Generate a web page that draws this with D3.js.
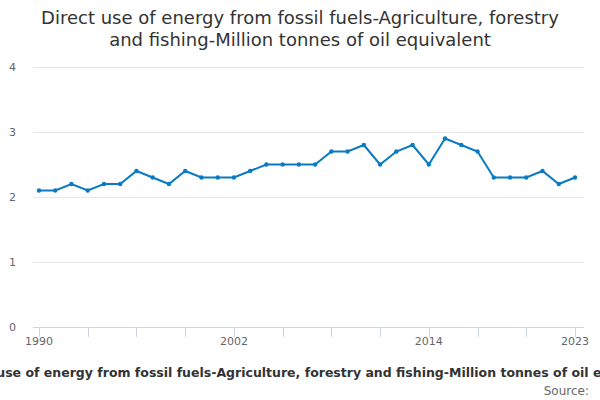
<!DOCTYPE html>
<html lang="en">
<head>
<meta charset="utf-8">
<title>Direct use of energy from fossil fuels</title>
<script src="https://d3js.org/d3.v7.min.js"></script>
<style>
  body { margin: 0; background: #fff; }
  text { font-family: "DejaVu Sans", sans-serif; }
</style>
</head>
<body>
<script>
// values
var years = d3.range(1990, 2024);
var values = [2.1, 2.1, 2.2, 2.1, 2.2, 2.2, 2.4, 2.3, 2.2, 2.4,
              2.3, 2.3, 2.3, 2.4, 2.5, 2.5, 2.5, 2.5, 2.7, 2.7,
              2.8, 2.5, 2.7, 2.8, 2.5, 2.9, 2.8, 2.7, 2.3, 2.3,
              2.3, 2.4, 2.2, 2.3];
var yTicks = [0, 1, 2, 3, 4];
var xLabelYears = [1990, 2002, 2014, 2023];
var xTickYears = d3.range(1990, 2024, 3);
var titleLines = ["Direct use of energy from fossil fuels-Agriculture, forestry",
                  "and fishing-Million tonnes of oil equivalent"];
var axisTitle = "Direct use of energy from fossil fuels-Agriculture, forestry and fishing-Million tonnes of oil equivalent";

var width = 600,
    height = 400;

var plotLeft = 33, plotRight = 584, plotTop = 67, plotBottom = 327;

var x = d3.scaleLinear()
    .domain([1990, 2023])
    .range([39, 575]);

var y = d3.scaleLinear()
    .domain([0, 4])
    .range([plotBottom, plotTop]);

var svg = d3.select("body").append("svg")
    .attr("width", width)
    .attr("height", height);

// title
svg.append("text")
    .attr("x", width / 2)
    .attr("y", 24)
    .attr("text-anchor", "middle")
    .style("font-size", "18px")
    .style("fill", "#333")
  .selectAll("tspan")
    .data(titleLines)
  .enter().append("tspan")
    .attr("x", width / 2)
    .attr("dy", function(d, i) { return i ? 22 : 0; })
    .text(function(d) { return d; });

// gridlines
svg.append("g")
  .selectAll("line")
    .data(yTicks.filter(function(d) { return d > 0; }))
  .enter().append("line")
    .attr("x1", plotLeft)
    .attr("x2", plotRight)
    .attr("y1", function(d) { return y(d) + 0.5; })
    .attr("y2", function(d) { return y(d) + 0.5; })
    .style("stroke", "#e6e6e6");

// y labels
svg.append("g")
  .selectAll("text")
    .data(yTicks)
  .enter().append("text")
    .attr("x", 16)
    .attr("y", function(d) { return y(d) + 4; })
    .attr("text-anchor", "end")
    .style("font-size", "11px")
    .style("fill", "#666")
    .text(function(d) { return d; });

// x axis
var xAxis = svg.append("g");
xAxis.append("line")
    .attr("x1", plotLeft)
    .attr("x2", plotRight)
    .attr("y1", plotBottom + 0.5)
    .attr("y2", plotBottom + 0.5)
    .style("stroke", "#ccd6eb");

xAxis.selectAll(".tick")
    .data(xTickYears)
  .enter().append("line")
    .attr("class", "tick")
    .attr("x1", function(d) { return Math.round(x(d)) + 0.5; })
    .attr("x2", function(d) { return Math.round(x(d)) + 0.5; })
    .attr("y1", plotBottom)
    .attr("y2", plotBottom + 10)
    .style("stroke", "#ccd6eb");

xAxis.selectAll(".lbl")
    .data(xLabelYears)
  .enter().append("text")
    .attr("class", "lbl")
    .attr("x", function(d) { return x(d); })
    .attr("y", plotBottom + 18)
    .attr("text-anchor", "middle")
    .style("font-size", "11px")
    .style("fill", "#666")
    .text(function(d) { return d; });

// line + markers
var data = years.map(function(d, i) { return { year: d, value: values[i] }; });

var line = d3.line()
    .x(function(d) { return x(d.year); })
    .y(function(d) { return y(d.value); });

svg.append("path")
    .datum(data)
    .attr("d", line)
    .style("fill", "none")
    .style("stroke", "#0a7bc2")
    .style("stroke-width", 2);

svg.append("g")
  .selectAll("circle")
    .data(data)
  .enter().append("circle")
    .attr("cx", function(d) { return x(d.year); })
    .attr("cy", function(d) { return y(d.value); })
    .attr("r", 2.2)
    .style("fill", "#0a7bc2");

// axis title (centred on the plot, overflows like the original) and source
svg.append("text")
    .attr("x", (plotLeft + plotRight) / 2)
    .attr("y", 377)
    .attr("text-anchor", "middle")
    .style("font-size", "12.5px")
    .style("font-weight", "bold")
    .style("fill", "#333")
    .text(axisTitle);

svg.append("text")
    .attr("x", 589)
    .attr("y", 395)
    .attr("text-anchor", "end")
    .style("font-size", "12px")
    .style("fill", "#666")
    .text("Source:");
</script>
</body>
</html>
